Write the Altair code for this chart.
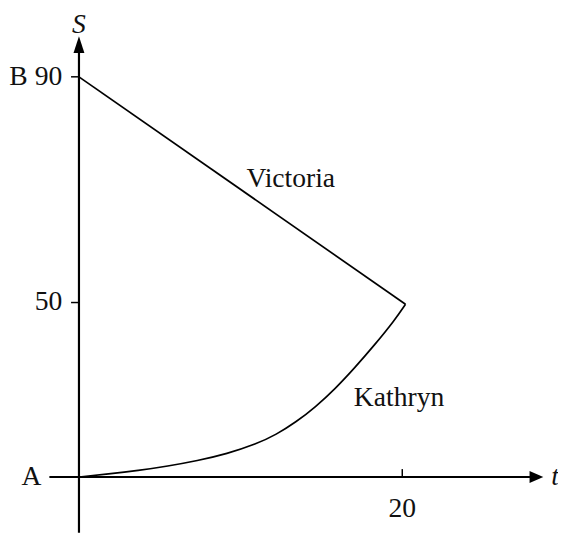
import altair as alt
import pandas as pd

# ---- data ----
kathryn_t = [0, 1.83, 3.66, 5.49, 7.32, 9.15, 10.98, 12.2, 13.41, 14.63, 15.85, 17.07, 18.29, 19.51, 20.2]
kathryn_s = [0, 0.85, 1.84, 3.11, 4.66, 6.64, 9.46, 12.15, 15.68, 20.06, 25.28, 31.36, 37.85, 44.8, 49.5]
victoria_t = [0, 20.2]
victoria_s = [90, 49.5]
y_tick_values = [90, 50]
y_tick_labels = ["B 90", "50"]
x_tick_values = [20]
x_tick_labels = ["20"]

FONT = "Liberation Serif"
FS = 28

xs = alt.Scale(domain=[0, 20], range=[72, 400], nice=False, zero=False)
ys = alt.Scale(domain=[0, 50, 90], range=[472, 295, 66], nice=False, zero=False)

def X(f):
    return alt.X(f, type="quantitative", scale=xs, axis=None)

def Y(f):
    return alt.Y(f, type="quantitative", scale=ys, axis=None)

kath = pd.DataFrame({"t": kathryn_t, "s": kathryn_s})
vic = pd.DataFrame({"t": victoria_t, "s": victoria_s})

kath_line = alt.Chart(kath).mark_line(color="black", strokeWidth=1.7, interpolate="basis").encode(
    x=X("t"), y=Y("s"))
vic_line = alt.Chart(vic).mark_line(color="black", strokeWidth=1.7).encode(
    x=X("t"), y=Y("s"))

# axis lines (in data space)
axes_df = pd.DataFrame({"x1": [-1.83, 0], "x2": [27.9, 0], "y1": [0, -16], "y2": [0, 94.2]})
axes = alt.Chart(axes_df).mark_rule(color="black", strokeWidth=2.2).encode(
    x=X("x1"), x2="x2", y=Y("y1"), y2="y2")

# arrowheads
up = pd.DataFrame({"t": [0], "s": [95.7]})
right = pd.DataFrame({"t": [28.3], "s": [0]})
arrow_up = alt.Chart(up).mark_point(shape="M0,-1L0.65,1L-0.65,1Z", filled=True, color="black",
                                    size=289, opacity=1, strokeWidth=0).encode(x=X("t"), y=Y("s"))
arrow_right = alt.Chart(right).mark_point(shape="M1,0L-1,-0.86L-1,0.86Z", filled=True, color="black",
                                          size=196, opacity=1, strokeWidth=0).encode(x=X("t"), y=Y("s"))

# ticks
yt = pd.DataFrame({"s": y_tick_values, "lab": y_tick_labels})
xt = pd.DataFrame({"t": x_tick_values, "lab": x_tick_labels})
ytick = alt.Chart(yt).mark_rule(color="black", strokeWidth=1.5).encode(
    x=alt.X("a:Q", scale=xs, axis=None), x2="b:Q", y=Y("s")).transform_calculate(a="-0.49", b="0")
xtick = alt.Chart(xt).mark_rule(color="black", strokeWidth=1.5).encode(
    x=X("t"), y=alt.Y("a:Q", scale=ys, axis=None), y2="b:Q").transform_calculate(a="0", b="2.26")

ylab = alt.Chart(yt).mark_text(font=FONT, fontSize=FS, align="right", baseline="middle", dx=-17,
                               color="#111").encode(
    x=alt.X("z:Q", scale=xs, axis=None), y=Y("s"), text="lab:N").transform_calculate(z="0")
xlab = alt.Chart(xt).mark_text(font=FONT, fontSize=FS, align="center", baseline="middle", dy=33,
                               color="#111").encode(
    x=X("t"), y=alt.Y("z:Q", scale=ys, axis=None), text="lab:N").transform_calculate(z="0")

ann = pd.DataFrame({
    "t": [0, 0, 29.45, 13.1, 19.8],
    "s": [0, 99.1, 0, 71.8, 22.6],
    "lab": ["A", "S", "t", "Victoria", "Kathryn"],
})
a_lab = alt.Chart(ann).transform_filter("datum.lab == 'A'").mark_text(
    font=FONT, fontSize=FS, align="right", baseline="middle", dx=-38, color="#111").encode(
    x=X("t"), y=Y("s"), text="lab:N")
it_lab = alt.Chart(ann).transform_filter("datum.lab == 'S' || datum.lab == 't'").mark_text(
    font=FONT, fontSize=FS, fontStyle="italic", align="center", baseline="middle", color="#111").encode(
    x=X("t"), y=Y("s"), text="lab:N")
name_lab = alt.Chart(ann).transform_filter("datum.lab == 'Victoria' || datum.lab == 'Kathryn'").mark_text(
    font=FONT, fontSize=FS, align="center", baseline="middle", color="#111").encode(
    x=X("t"), y=Y("s"), text="lab:N")

chart = alt.layer(
    axes, arrow_up, arrow_right, ytick, xtick, vic_line, kath_line, ylab, xlab, a_lab, it_lab, name_lab
).properties(
    width=558, height=525, padding=0, autosize="none", background="white"
).configure_view(stroke=None)

chart.save("out.html", embed_options={"renderer": "svg", "actions": False})
